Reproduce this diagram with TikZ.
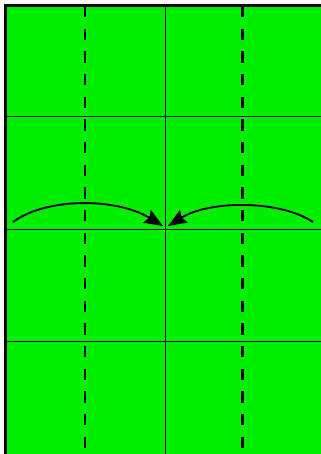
\documentclass[tikz,border=0pt]{standalone}
\usepackage{tikz}
\usetikzlibrary{arrows.meta}
\definecolor{papergreen}{RGB}{0,240,0}
\tikzset{
  sheet/.style={draw=black,fill=papergreen,line width=2.2pt},
  creaseline/.style={draw=black,line width=0.8pt},
  valleyfold/.style={draw=black,line width=2pt,dash pattern=on 8.5pt off 8.5pt},
  foldarrow/.style={draw=black,line width=1.4pt,-{Stealth[length=14pt,width=11pt,inset=2pt]}}
}

\begin{document}
\begin{tikzpicture}[x=0.75pt,y=-0.75pt]
  \useasboundingbox (0,0) rectangle (321,454);
  \clip (0,0) rectangle (321,454);
  % paper
  \path[sheet] (5.5,5.5) rectangle (325,455.5);
  % creases
  \draw[creaseline] (165.5,5.5) -- (165.5,455);
  \foreach \y in {116.5,229.5,341.5}
    \draw[creaseline] (5.5,\y) -- (325,\y);
  % valley folds
  \foreach \x in {85,242.5}
    \draw[valleyfold] (\x,6) -- (\x,454);
  % fold arrows
  \coordinate (leftstart) at (13,222);
  \coordinate (lefttip) at (163,226);
  \coordinate (rightstart) at (313,222);
  \coordinate (righttip) at (168,226);
  \draw[foldarrow] (leftstart) .. controls (45,198) and (115,197) .. (lefttip);
  \draw[foldarrow] (rightstart) .. controls (280,200) and (210,200) .. (righttip);
\end{tikzpicture}
\end{document}
